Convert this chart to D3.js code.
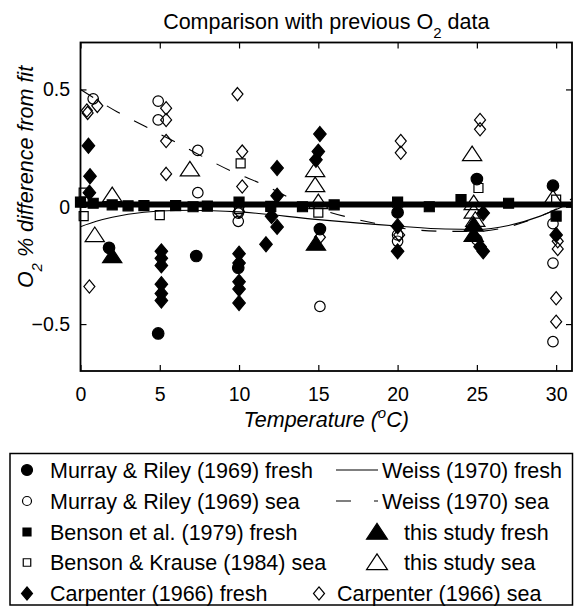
<!DOCTYPE html>
<html>
<head>
<meta charset="utf-8">
<script src="https://cdnjs.cloudflare.com/ajax/libs/d3/7.8.5/d3.min.js"></script>
<style>
    body { margin: 0; background: #fff; }
    svg { display: block; font-family: "Liberation Sans", Arial, sans-serif; }
</style>
</head>
<body>
<div id="chart"></div>
<script>
// [temperature degC, % difference]
var murrayFresh = [[1.8,-0.175],[4.9,-0.54],[7.3,-0.21],[9.95,-0.26],[15.1,-0.095],[20,-0.024],[25,0.118],[29.8,0.09]];
var murraySea = [[0.8,0.46],[4.9,0.45],[4.9,0.37],[7.4,0.24],[7.4,0.06],[9.95,-0.027],[9.95,-0.062],[15.1,-0.425],
    [20,-0.12],[20,-0.147],[25,-0.14],[29.8,-0.072],[29.8,-0.24],[29.8,-0.575]];
var bensonFresh = [[0,0.02],[0.8,0.015],[2,0.008],[3,0.004],[4,0.005],[6,0.005],[7.1,0.0],[8,0.003],[10,0.02],
    [12,0.002],[14,0.0],[16,0.008],[20,0.02],[22,0.0],[24,0.03],[27,0.015],[30,-0.04]];
var bensonKrauseSea = [[0.2,0.06],[0.2,-0.04],[5,-0.036],[10.1,0.185],[10,-0.01],[15,-0.025],[25.1,0.08],[30,0.03]];
var carpenterFresh = [[0.5,0.26],[0.6,0.13],[0.56,0.06],[5.1,-0.19],[5.1,-0.22],[5.1,-0.25],[5.1,-0.33],[5.1,-0.37],
    [5.1,-0.40],[10,-0.2],[10,-0.24],[10,-0.32],[10,-0.35],[10,-0.41],[11.7,-0.16],[12.05,-0.04],[12.4,-0.086],
    [12.4,0.047],[12.4,0.165],[15.1,0.31],[15,0.235],[14.85,0.2],[20,-0.083],[20,-0.19],[25.4,-0.027],[25.2,-0.17],
    [25.4,-0.19],[30,-0.12]];
var carpenterSea = [[0.4,0.41],[0.45,0.40],[1.06,0.43],[0.56,-0.34],[5.4,0.42],[5.4,0.37],[5.4,0.28],[5.4,0.14],
    [9.9,0.48],[10.2,0.235],[10.2,0.086],[10,-0.02],[15.1,-0.13],[20.2,0.28],[20.2,0.23],[20.1,-0.12],[25.2,0.37],
    [25.2,0.33],[30.1,-0.147],[30.1,-0.18],[30,-0.39],[30,-0.49]];
var thisFresh = [[2,-0.21],[14.85,-0.157],[24.8,-0.076],[24.8,-0.119]];
var thisSea = [[0.9,-0.12],[2,0.05],[6.9,0.16],[14.8,0.157],[14.8,0.093],[15,0.02],[24.7,0.225],[24.8,0.016],
    [24.8,-0.02],[24.9,-0.055],[29.8,0.037]];

// Weiss (1970) curves
var weissFreshT = [0,1,2,3,5,7,10,15,20,23,25,27,29,30,31];
var weissFresh = [-0.085,-0.062,-0.045,-0.032,-0.018,-0.015,-0.022,-0.055,-0.082,-0.095,-0.097,-0.08,-0.04,-0.012,0.02];
var weissSeaT = [0,2.3,4,6,9.7,11.5,13.3,17.2,19,21,23.3,25,27,29,30,31];
var weissSea = [0.5,0.405,0.345,0.275,0.146,0.095,0.035,-0.05,-0.076,-0.098,-0.105,-0.105,-0.085,-0.04,-0.01,0.035];
var fitLineT = [0,31];
var fitLine = [0.01,0.01];

var xTicks = [0,5,10,15,20,25,30];
var yTicks = [-0.5,0,0.5];

var W = 574, H = 607;
var margin = {top: 42.5, right: 2, bottom: 236, left: 80.5};
var width = W - margin.left - margin.right;
var height = H - margin.top - margin.bottom;

var svg = d3.select("#chart").append("svg")
    .attr("width", W)
    .attr("height", H);

var x = d3.scaleLinear().domain([0,31]).range([0, width]);
var y = d3.scaleLinear().domain([-0.7,0.7]).range([height, 0]);

var g = svg.append("g")
    .attr("transform", "translate(" + margin.left + "," + margin.top + ")");

// marker shapes
function markerPath(type, s) {
    var p = d3.path();
    if (type == "circle") {
        p.arc(0, 0, s/2, 0, 2*Math.PI);
    } else if (type == "square") {
        p.rect(-s/2, -s/2, s, s);
    } else if (type == "diamond") {
        p.moveTo(0, -s*0.6); p.lineTo(s*0.5, 0); p.lineTo(0, s*0.6); p.lineTo(-s*0.5, 0); p.closePath();
    } else if (type == "triangle") {
        p.moveTo(0, -s*0.45); p.lineTo(s*0.55, s*0.38); p.lineTo(-s*0.55, s*0.38); p.closePath();
    }
    return p.toString();
}

var series = [
    {name: "Murray & Riley (1969) fresh", data: murrayFresh, type: "circle", size: 11.5, filled: true, lsize: 11},
    {name: "Murray & Riley (1969) sea", data: murraySea, type: "circle", size: 10.5, filled: false, lsize: 9},
    {name: "Benson et al. (1979) fresh", data: bensonFresh, type: "square", size: 10, filled: true, lsize: 8},
    {name: "Benson & Krause (1984) sea", data: bensonKrauseSea, type: "square", size: 9, filled: false, lsize: 7.5},
    {name: "Carpenter (1966) fresh", data: carpenterFresh, type: "diamond", size: 12.5, filled: true, lsize: 11},
    {name: "Carpenter (1966) sea", data: carpenterSea, type: "diamond", size: 11, filled: false, lsize: 11},
    {name: "this study fresh", data: thisFresh, type: "triangle", size: 17.5, filled: true, lsize: 19},
    {name: "this study sea", data: thisSea, type: "triangle", size: 17.5, filled: false, lsize: 19}
];

// fitted curves
var line = d3.line()
    .x(function(d) { return x(d[0]); })
    .y(function(d) { return y(d[1]); })
    .curve(d3.curveMonotoneX);

g.append("path")
    .datum(d3.zip(weissFreshT, weissFresh))
    .attr("d", line)
    .attr("fill", "none")
    .attr("stroke", "#000")
    .attr("stroke-width", 1.1);

g.append("path")
    .datum(d3.zip(weissSeaT, weissSea))
    .attr("d", line)
    .attr("fill", "none")
    .attr("stroke", "#000")
    .attr("stroke-width", 1.1)
    .attr("stroke-dasharray", "15,16");

g.append("path")
    .datum(d3.zip(fitLineT, fitLine))
    .attr("d", line)
    .attr("fill", "none")
    .attr("stroke", "#000")
    .attr("stroke-width", 6);

// markers
series.forEach(function(s) {
    g.append("g").selectAll("path")
        .data(s.data)
        .enter().append("path")
        .attr("transform", function(d) { return "translate(" + x(d[0]) + "," + y(d[1]) + ")"; })
        .attr("d", markerPath(s.type, s.size))
        .attr("fill", s.filled ? "#000" : "none")
        .attr("stroke", "#000")
        .attr("stroke-width", 1.2);
});

// axes with inward ticks on all sides
var fmt = function(d) { return d < 0 ? "\u2212" + Math.abs(d) : d; };
var axisStyle = function(sel) {
    sel.select(".domain").remove();
    sel.selectAll("line").attr("stroke", "#000").attr("stroke-width", 1.2);
    sel.selectAll("text").attr("font-size", 19.5).attr("fill", "#000")
        .attr("font-family", "Liberation Sans, Arial, sans-serif");
};

g.append("g")
    .attr("transform", "translate(0," + height + ")")
    .call(d3.axisBottom(x).tickValues(xTicks).tickSizeInner(-6).tickSizeOuter(0).tickPadding(16))
    .call(axisStyle);
g.append("g")
    .call(d3.axisTop(x).tickValues(xTicks).tickSizeInner(-6).tickSizeOuter(0).tickFormat(""))
    .call(axisStyle);
g.append("g")
    .call(d3.axisLeft(y).tickValues(yTicks).tickSizeInner(-6).tickSizeOuter(0).tickPadding(10.5).tickFormat(fmt))
    .call(axisStyle);
g.append("g")
    .attr("transform", "translate(" + width + ",0)")
    .call(d3.axisRight(y).tickValues(yTicks).tickSizeInner(-6).tickSizeOuter(0).tickFormat(""))
    .call(axisStyle);

g.append("rect")
    .attr("width", width)
    .attr("height", height)
    .attr("fill", "none")
    .attr("stroke", "#000")
    .attr("stroke-width", 1.8);

// title and labels
var title = svg.append("text")
    .attr("x", margin.left + width / 2)
    .attr("y", 28.5)
    .attr("text-anchor", "middle")
    .attr("font-size", 21.5);
title.append("tspan").text("Comparison with previous O");
title.append("tspan").attr("dy", 9).attr("font-size", 15).text("2");
title.append("tspan").attr("dy", -9).text(" data");

var xl = svg.append("text")
    .attr("x", margin.left + width / 2)
    .attr("y", 427)
    .attr("text-anchor", "middle")
    .attr("font-size", 21.5)
    .attr("font-style", "italic");
xl.append("tspan").text("Temperature (");
xl.append("tspan").attr("dy", -9).attr("font-size", 15).text("o");
xl.append("tspan").attr("dy", 9).text("C)");

var yl = svg.append("text")
    .attr("transform", "translate(33,177) rotate(-90)")
    .attr("text-anchor", "middle")
    .attr("font-size", 21.5)
    .attr("font-style", "italic");
yl.append("tspan").text("O");
yl.append("tspan").attr("dy", 9).attr("font-size", 15).text("2");
yl.append("tspan").attr("dy", -9).text(" % difference from fit");

// legend
var leg = svg.append("g");
leg.append("rect")
    .attr("x", 10).attr("y", 453.5)
    .attr("width", 562.5).attr("height", 151.5)
    .attr("fill", "#fff")
    .attr("stroke", "#000")
    .attr("stroke-width", 1.5);

var rowY = [470, 501, 532, 562.5, 593.5];
var leftItems = [0, 1, 2, 3, 4];
leftItems.forEach(function(k, i) {
    var s = series[k];
    leg.append("path")
        .attr("transform", "translate(27," + rowY[i] + ")")
        .attr("d", markerPath(s.type, s.lsize))
        .attr("fill", s.filled ? "#000" : "none")
        .attr("stroke", "#000").attr("stroke-width", 1.2);
    leg.append("text")
        .attr("x", 50).attr("y", rowY[i]).attr("dy", "0.36em")
        .attr("font-size", 21.5)
        .text(s.name);
});

// right column
leg.append("line").attr("x1", 336).attr("x2", 378).attr("y1", rowY[0]).attr("y2", rowY[0])
    .attr("stroke", "#000").attr("stroke-width", 1.1);
leg.append("text").attr("x", 382).attr("y", rowY[0]).attr("dy", "0.36em").attr("font-size", 21.5)
    .text("Weiss (1970) fresh");
leg.append("line").attr("x1", 336).attr("x2", 378).attr("y1", rowY[1]).attr("y2", rowY[1])
    .attr("stroke", "#000").attr("stroke-width", 1.1).attr("stroke-dasharray", "15,23");
leg.append("text").attr("x", 382).attr("y", rowY[1]).attr("dy", "0.36em").attr("font-size", 21.5)
    .text("Weiss (1970) sea");
[6, 7].forEach(function(k, i) {
    var s = series[k];
    leg.append("path")
        .attr("transform", "translate(377," + rowY[2 + i] + ")")
        .attr("d", markerPath(s.type, s.lsize))
        .attr("fill", s.filled ? "#000" : "none")
        .attr("stroke", "#000").attr("stroke-width", 1.2);
    leg.append("text")
        .attr("x", 404).attr("y", rowY[2 + i]).attr("dy", "0.36em")
        .attr("font-size", 21.5)
        .text(s.name);
});
leg.append("path")
    .attr("transform", "translate(319," + rowY[4] + ")")
    .attr("d", markerPath("diamond", series[5].lsize))
    .attr("fill", "none").attr("stroke", "#000").attr("stroke-width", 1.2);
leg.append("text").attr("x", 337).attr("y", rowY[4]).attr("dy", "0.36em").attr("font-size", 21.5)
    .text(series[5].name);
</script>
</body>
</html>
